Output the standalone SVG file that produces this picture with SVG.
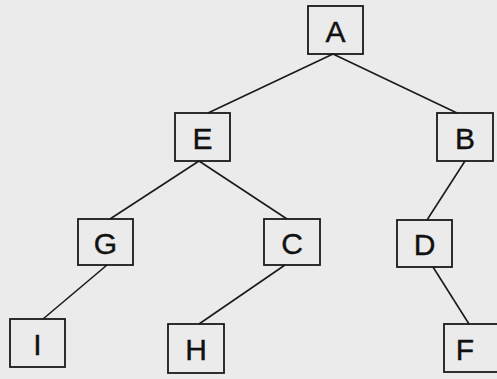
<svg xmlns="http://www.w3.org/2000/svg" width="497" height="379" viewBox="0 0 497 379">
<style>
.bg{fill:#ebebeb}
.box{fill:none;stroke:#1a1a1a;stroke-width:1.8}
.lbl{font-family:"Liberation Sans",Arial,sans-serif;font-size:30px;fill:#111;stroke:#111;stroke-width:0.4;text-anchor:middle;dominant-baseline:central}
.edge{stroke:#1a1a1a;stroke-width:1.6;fill:none}
</style>
<rect class="bg" x="0" y="0" width="497" height="379"/>
<g id="connectors">
<line class="edge" x1="333" y1="54" x2="208" y2="113"/>
<line class="edge" x1="333" y1="54" x2="457" y2="113"/>
<line class="edge" x1="199" y1="161" x2="110" y2="219"/>
<line class="edge" x1="199" y1="161" x2="287" y2="219"/>
<line class="edge" x1="465" y1="161" x2="427" y2="220"/>
<line class="edge" x1="107" y1="265" x2="43" y2="319"/>
<line class="edge" x1="285" y1="265" x2="199" y2="324"/>
<line class="edge" x1="433" y1="267" x2="469" y2="324"/>
</g>
<g id="node-A"><rect class="box" x="308" y="6" width="55" height="48"/><text class="lbl" x="335.5" y="31">A</text></g>
<g id="node-E"><rect class="box" x="175" y="113" width="55" height="48"/><text class="lbl" x="202.5" y="138">E</text></g>
<g id="node-B"><rect class="box" x="437" y="113" width="56" height="48"/><text class="lbl" x="465" y="138">B</text></g>
<g id="node-G"><rect class="box" x="78" y="219" width="55" height="46"/><text class="lbl" x="105.5" y="243">G</text></g>
<g id="node-C"><rect class="box" x="264" y="219" width="56" height="46"/><text class="lbl" x="292" y="243">C</text></g>
<g id="node-D"><rect class="box" x="397" y="220" width="55" height="47"/><text class="lbl" x="424.5" y="244">D</text></g>
<g id="node-I"><rect class="box" x="10" y="319" width="55" height="48"/><text class="lbl" x="37.5" y="344">I</text></g>
<g id="node-H"><rect class="box" x="168" y="324" width="56" height="49"/><text class="lbl" x="196" y="349">H</text></g>
<g id="node-F"><rect class="box" x="444" y="324" width="56" height="48"/><text class="lbl" x="465" y="349">F</text></g>
</svg>
